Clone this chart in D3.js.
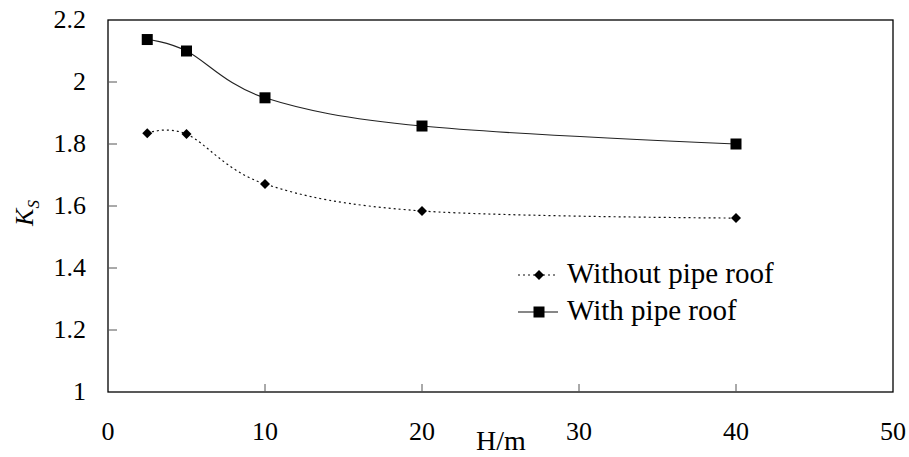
<!DOCTYPE html>
<html>
<head>
<meta charset="utf-8">
<script src="https://cdn.jsdelivr.net/npm/d3@7"></script>
<style>
  body { margin: 0; background: #fff; }
</style>
</head>
<body>
<div id="chart"></div>
<script>
// H/m values (x)
var depths = [2.5, 5, 10, 20, 40];
// Ks values
var withoutRoof = [1.835, 1.832, 1.671, 1.584, 1.561];
var withRoof = [2.137, 2.10, 1.949, 1.858, 1.80];
var xTicks = [0, 10, 20, 30, 40, 50];
var yTicks = [1, 1.2, 1.4, 1.6, 1.8, 2, 2.2];

const _left = 108, _right = 893, _top = 20, _bottom = 392;

var svg = d3.select("#chart").append("svg")
    .attr("width", 909)
    .attr("height", 457)
    .attr("font-family", "'Liberation Serif', 'Times New Roman', serif");

var x = d3.scaleLinear().domain([0, 50]).range([_left, _right]);
var y = d3.scaleLinear().domain([1, 2.2]).range([_bottom, _top]);

// plot box
svg.append("rect")
    .attr("x", _left).attr("y", _top)
    .attr("width", _right - _left).attr("height", _bottom - _top)
    .attr("fill", "none").attr("stroke", "#000").attr("stroke-width", 1.3);

// inner ticks
svg.append("g").selectAll("line").data(yTicks.slice(1, -1)).enter().append("line")
    .attr("x1", _left).attr("x2", _left + 9)
    .attr("y1", function (d) { return y(d); }).attr("y2", function (d) { return y(d); })
    .attr("stroke", "#555").attr("stroke-width", 1);
svg.append("g").selectAll("line").data(xTicks.slice(1, -1)).enter().append("line")
    .attr("x1", function (d) { return x(d); }).attr("x2", function (d) { return x(d); })
    .attr("y1", _bottom).attr("y2", _bottom - 8)
    .attr("stroke", "#555").attr("stroke-width", 1);

// tick labels
svg.append("g").selectAll("text").data(yTicks).enter().append("text")
    .attr("x", 86)
    .attr("y", function (d) { return y(d) + 8; })
    .attr("text-anchor", "end")
    .attr("font-size", 26)
    .text(function (d) { return d; });
svg.append("g").selectAll("text").data(xTicks).enter().append("text")
    .attr("x", function (d) { return x(d); })
    .attr("y", 440)
    .attr("text-anchor", "middle")
    .attr("font-size", 26)
    .text(function (d) { return d; });

// axis titles
svg.append("text")
    .attr("x", 501).attr("y", 450)
    .attr("text-anchor", "middle")
    .attr("font-size", 28)
    .text("H/m");

var yTitle = svg.append("text")
    .attr("transform", "translate(33,213) rotate(-90)")
    .attr("text-anchor", "middle")
    .attr("font-size", 26);
yTitle.append("tspan").attr("font-style", "italic").text("K");
yTitle.append("tspan").attr("dy", 6).attr("font-size", 17).attr("font-style", "italic").text("S");

// lines
var line = d3.line()
    .x(function (d) { return x(d[0]); })
    .y(function (d) { return y(d[1]); })
    .curve(d3.curveCardinal.tension(0));

var ptsWithout = depths.map(function (d, i) { return [d, withoutRoof[i]]; });
var ptsWith = depths.map(function (d, i) { return [d, withRoof[i]]; });

svg.append("path").datum(ptsWithout)
    .attr("d", line)
    .attr("fill", "none").attr("stroke", "#111").attr("stroke-width", 1.2)
    .attr("stroke-dasharray", "2,3");
svg.append("path").datum(ptsWith)
    .attr("d", line)
    .attr("fill", "none").attr("stroke", "#222").attr("stroke-width", 1.1);

var diamond = d3.symbol().type(d3.symbolDiamond2).size(64);
svg.append("g").selectAll("path").data(ptsWithout).enter().append("path")
    .attr("d", diamond)
    .attr("transform", function (d) { return "translate(" + x(d[0]) + "," + y(d[1]) + ")"; })
    .attr("fill", "#000");

svg.append("g").selectAll("rect").data(ptsWith).enter().append("rect")
    .attr("x", function (d) { return x(d[0]) - 5.5; })
    .attr("y", function (d) { return y(d[1]) - 5.5; })
    .attr("width", 11).attr("height", 11)
    .attr("fill", "#000");

// legend
var legendItems = [
    { name: "Without pipe roof", dash: "2,3", sym: "diamond" },
    { name: "With pipe roof", dash: null, sym: "square" }
];
var legend = svg.append("g").selectAll("g").data(legendItems).enter().append("g")
    .attr("transform", function (d, i) { return "translate(518," + (275 + i * 37) + ")"; });
legend.append("line")
    .attr("x1", 0).attr("x2", 40).attr("y1", 0).attr("y2", 0)
    .attr("stroke", "#111").attr("stroke-width", 1.1)
    .attr("stroke-dasharray", function (d) { return d.dash; });
legend.each(function (d) {
    var g = d3.select(this);
    if (d.sym == "diamond")
        g.append("path").attr("d", diamond).attr("transform", "translate(21,0)").attr("fill", "#000");
    else
        g.append("rect").attr("x", 15.5).attr("y", -5.5).attr("width", 11).attr("height", 11).attr("fill", "#000");
});
legend.append("text")
    .attr("x", 49).attr("y", 8)
    .attr("font-size", 29)
    .text(function (d) { return d.name; });
</script>
</body>
</html>
